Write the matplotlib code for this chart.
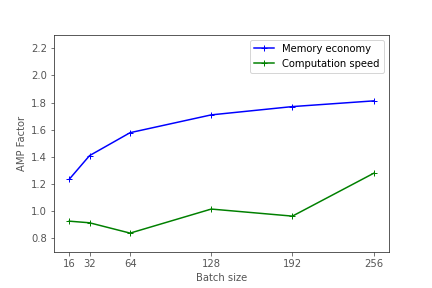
import matplotlib
matplotlib.use("Agg")
import matplotlib.pyplot as plt

batch_sizes = [16, 32, 64, 128, 192, 256]
memory_economy = [1.235, 1.409, 1.578, 1.709, 1.770, 1.812]
computation_speed = [0.927, 0.915, 0.839, 1.016, 0.964, 1.279]

grey = "#555555"
plt.rcParams.update({
    "text.color": grey,
    "axes.labelcolor": grey,
    "xtick.color": grey,
    "ytick.color": grey,
    "axes.edgecolor": "#333333",
})

fig, ax = plt.subplots(figsize=(6, 4), dpi=72)
fig.subplots_adjust(left=0.125, right=0.9, bottom=0.125, top=0.88)
ax.plot(batch_sizes, memory_economy, color="blue", marker="+", label="Memory economy")
ax.plot(batch_sizes, computation_speed, color="green", marker="+", label="Computation speed")

ax.set_xticks(batch_sizes)
ax.set_ylim(0.7, 2.3)
ax.set_yticks([0.8, 1.0, 1.2, 1.4, 1.6, 1.8, 2.0, 2.2])
ax.set_xlabel("Batch size")
ax.set_ylabel("AMP Factor")
leg = ax.legend(loc="upper right")
for t in leg.get_texts():
    t.set_color("black")

fig.savefig("out.png", dpi=72)
